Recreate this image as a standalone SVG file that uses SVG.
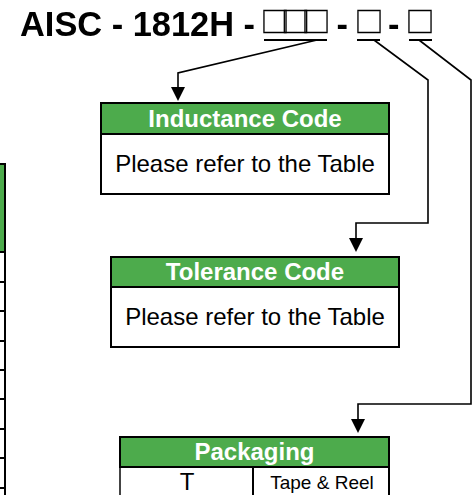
<svg xmlns="http://www.w3.org/2000/svg" width="474" height="495" viewBox="0 0 474 495">
  <defs>
    <style>
      .hdr { fill: #4DAB4C; stroke: #000; stroke-width: 2; }
      .body { fill: #fff; stroke: #000; stroke-width: 2; }
      .htxt { font-family: "Liberation Sans", Arial, sans-serif; font-weight: bold; font-size: 24px; fill: #fff; text-anchor: middle; }
      .btxt { font-family: "Liberation Sans", Arial, sans-serif; font-size: 24px; fill: #000; text-anchor: middle; }
      .ttl { font-family: "Liberation Sans", Arial, sans-serif; font-weight: bold; font-size: 34.4px; fill: #000; }
      .box { font-family: "Noto Sans CJK SC", "DejaVu Sans", sans-serif; font-weight: normal; font-size: 29px; letter-spacing: -8.5px; fill: #000; stroke: #000; stroke-width: 0.3px; }
      .conn { fill: none; stroke: #000; stroke-width: 1.6; }
      .uline { stroke: #000; stroke-width: 2; }
      .arrow { fill: #000; }
    </style>
    <filter id="flat" x="0" y="0" width="1" height="1">
      <feOffset dx="0" dy="0"/>
    </filter>
  </defs>
  <rect width="474" height="495" fill="#fff"/>

  <g id="title" filter="url(#flat)">
    <text x="20" y="36" class="ttl">AISC - 1812H -<tspan class="box" x="260.5" y="33">□□□</tspan><tspan x="336.5" y="36">-</tspan><tspan class="box" x="354.5" y="33">□</tspan><tspan x="388" y="36">-</tspan><tspan class="box" x="405.5" y="33">□</tspan></text>
  </g>

  <g id="left-table">
    <rect x="-60" y="164" width="65" height="88" class="hdr"/>
    <rect x="-60" y="252" width="65" height="260" class="body"/>
    <line x1="-60" y1="282" x2="5" y2="282" stroke="#000" stroke-width="2"/>
    <line x1="-60" y1="311" x2="5" y2="311" stroke="#000" stroke-width="2"/>
    <line x1="-60" y1="341" x2="5" y2="341" stroke="#000" stroke-width="2"/>
    <line x1="-60" y1="370" x2="5" y2="370" stroke="#000" stroke-width="2"/>
    <line x1="-60" y1="399" x2="5" y2="399" stroke="#000" stroke-width="2"/>
    <line x1="-60" y1="429" x2="5" y2="429" stroke="#000" stroke-width="2"/>
    <line x1="-60" y1="458" x2="5" y2="458" stroke="#000" stroke-width="2"/>
    <line x1="-60" y1="488" x2="5" y2="488" stroke="#000" stroke-width="2"/>
  </g>

  <g id="inductance-code">
    <rect x="101" y="134" width="288" height="60" class="body"/>
    <rect x="101" y="103" width="288" height="31" class="hdr"/>
    <text x="245" y="127" class="htxt">Inductance Code</text>
    <text x="245" y="172" class="btxt">Please refer to the Table</text>
  </g>

  <g id="tolerance-code">
    <rect x="111" y="287" width="288" height="60" class="body"/>
    <rect x="111" y="257" width="288" height="30" class="hdr"/>
    <text x="255" y="280" class="htxt">Tolerance Code</text>
    <text x="255" y="325" class="btxt">Please refer to the Table</text>
  </g>

  <g id="packaging">
    <rect x="120" y="467" width="269" height="40" fill="#fff" stroke="#000" stroke-width="2"/>
    <line x1="120" y1="467" x2="120" y2="500" stroke="#888" stroke-width="1"/>
    <line x1="253" y1="467" x2="253" y2="500" stroke="#000" stroke-width="2"/>
    <rect x="120" y="437" width="269" height="30" class="hdr"/>
    <text x="254.5" y="460" class="htxt">Packaging</text>
    <text x="187" y="490" class="btxt">T</text>
    <text x="322" y="489" font-family="Liberation Sans, Arial, sans-serif" font-size="19px" text-anchor="middle" fill="#000">Tape &amp; Reel</text>
  </g>

  <g id="connectors">
    <line x1="264" y1="40" x2="327" y2="40" class="uline"/>
    <line x1="357" y1="40" x2="380" y2="40" class="uline"/>
    <line x1="409" y1="40" x2="432" y2="40" class="uline"/>
    <polyline points="317,40 178,73 178,88" class="conn"/>
    <polygon points="171,87 185,87 178,101" class="arrow"/>
    <polyline points="374,40 428,80 428,223 356,223 356,239" class="conn"/>
    <polygon points="349,238 363,238 356,252" class="arrow"/>
    <polyline points="419,40 471,80 471,404 358,404 358,420" class="conn"/>
    <polygon points="351,419 365,419 358,433" class="arrow"/>
  </g>
</svg>
